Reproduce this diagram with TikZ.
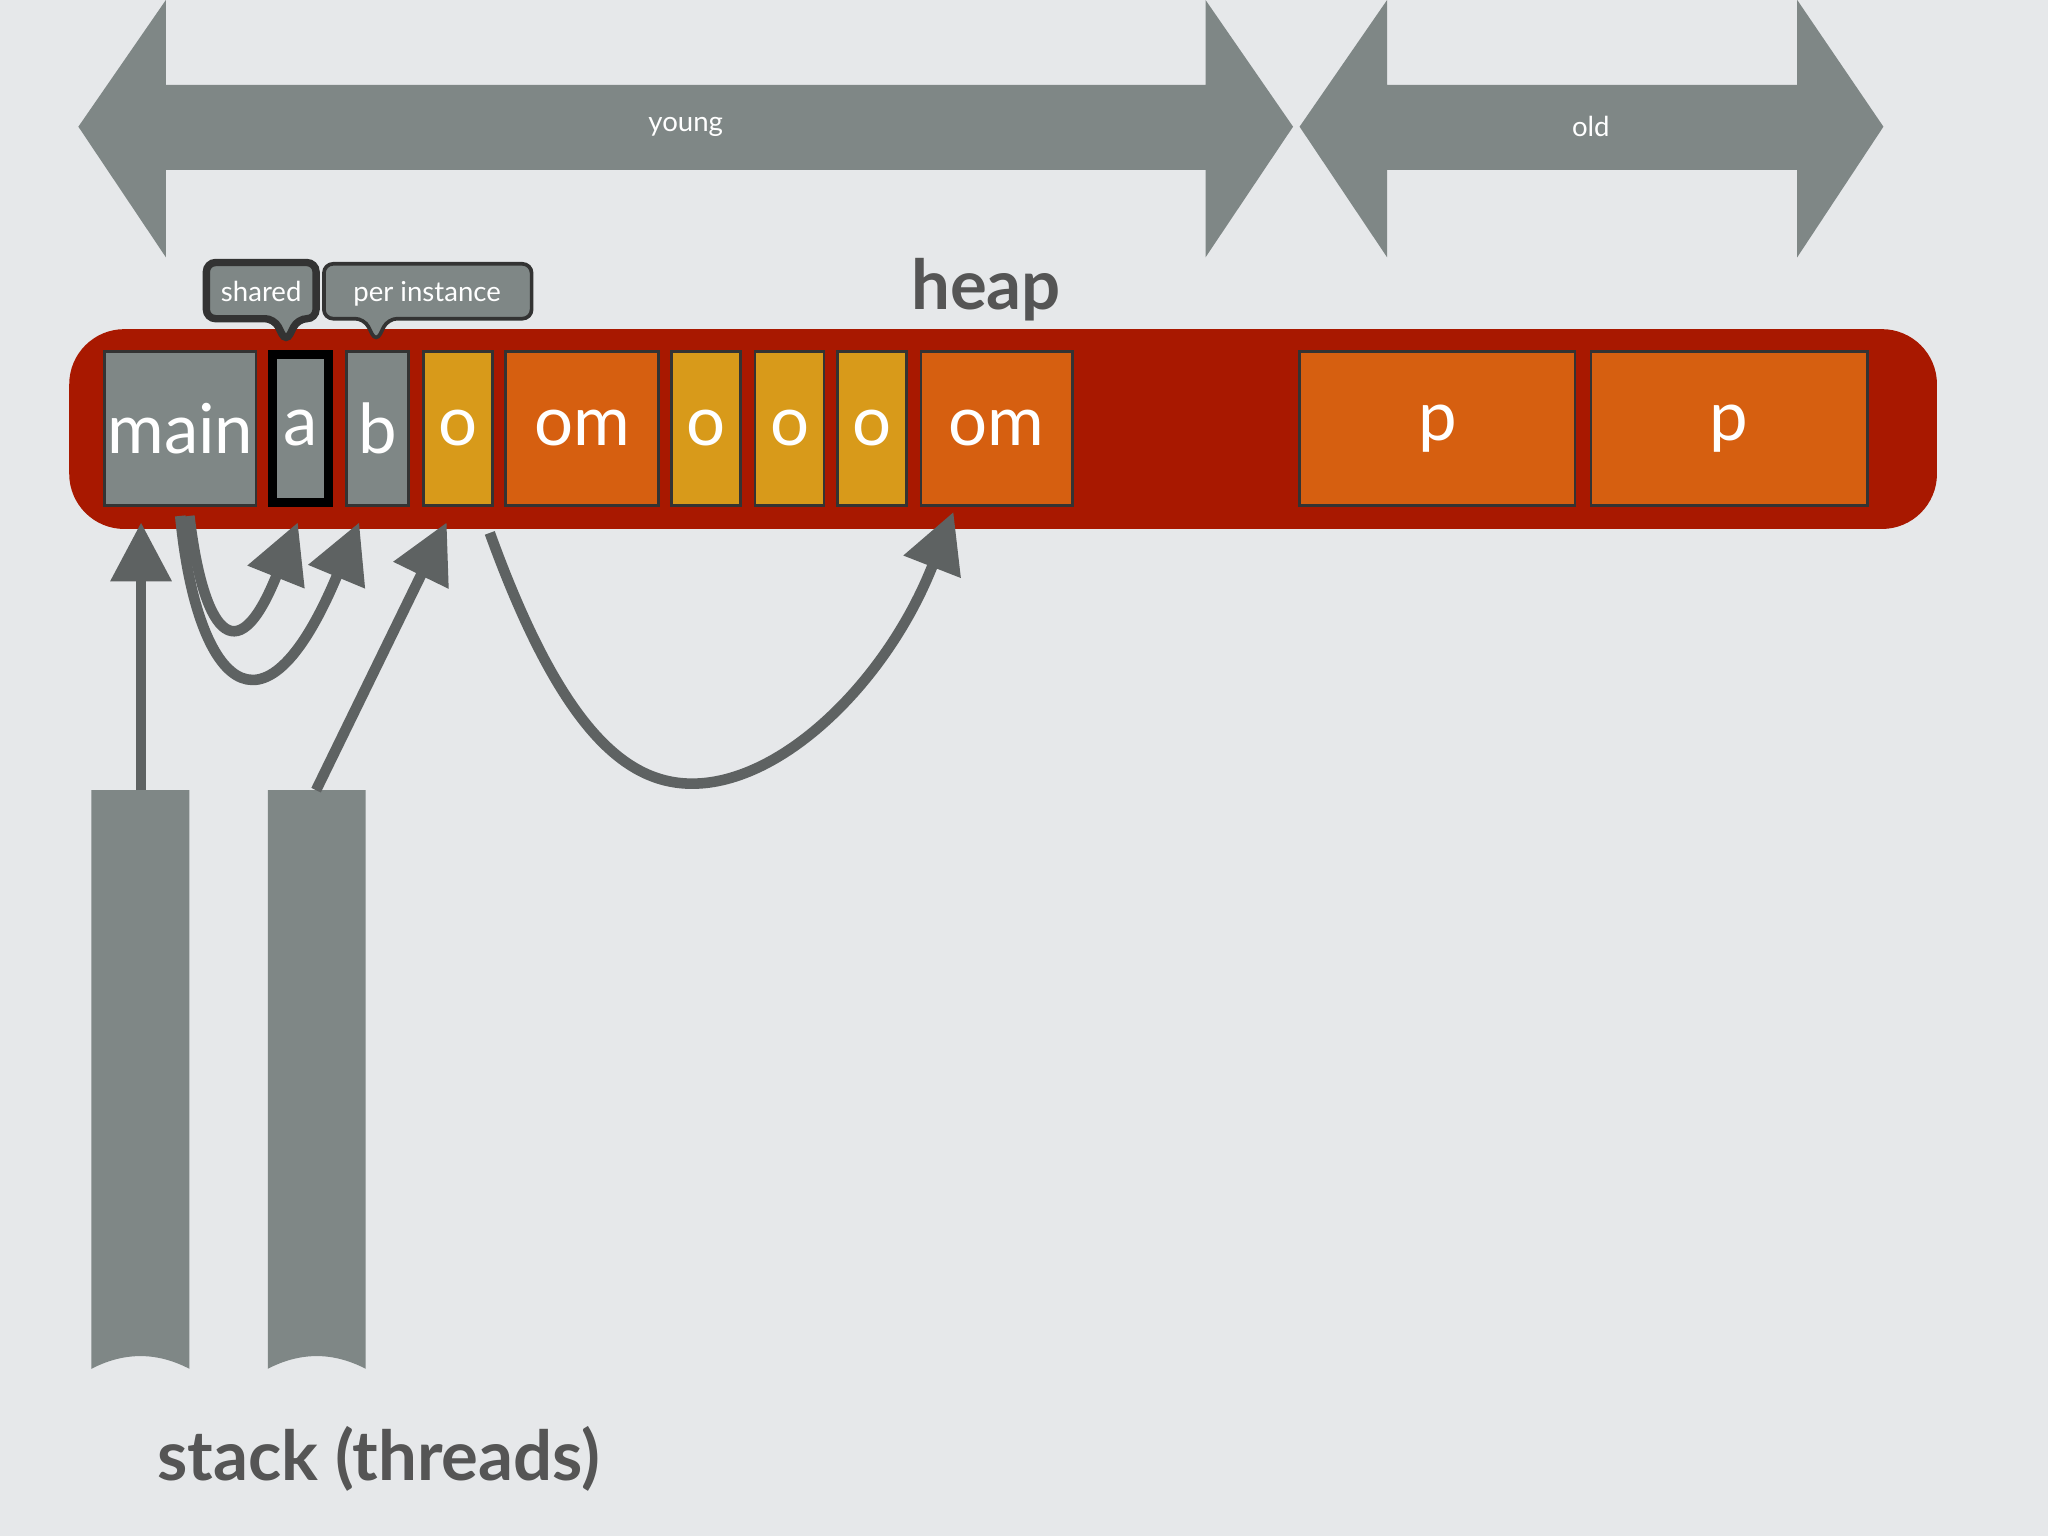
\documentclass[tikz,border=0pt]{standalone}
\usepackage{fontspec}
\setmainfont{Lato}
\usetikzlibrary{arrows.meta}
\definecolor{bg}{HTML}{E6E8EA}
\definecolor{gr}{HTML}{7F8786}
\definecolor{heapred}{HTML}{A81800}
\definecolor{yel}{HTML}{D89A1A}
\definecolor{ora}{HTML}{D65F10}
\definecolor{dk}{HTML}{555555}
\definecolor{arr}{HTML}{5E6262}
\tikzset{
 cell/.style={draw=black!80,line width=0.6pt,text=white,font=\fontsize{15}{15}\selectfont},
 lbl/.style={text=white,font=\fontsize{6}{6}\selectfont},
 ptr/.style={draw=arr,line width=2.3pt,-{Triangle[length=0.45cm,width=0.45cm]}},
 callout/.style={fill=gr,draw=black!80,line width=0.8pt,rounded corners=2pt}
}
\begin{document}
\begin{tikzpicture}[x=0.01cm,y=-0.01cm]
\fill[bg] (0,0) rectangle (1568,1176);
\useasboundingbox (0,0) rectangle (1568,1176);
% big arrows
\fill[gr] (60,97) -- (127,0) -- (127,65) -- (923,65) -- (923,0) -- (990,97) -- (923,197) -- (923,130) -- (127,130) -- (127,197) -- cycle;
\fill[gr] (995,97) -- (1062,0) -- (1062,65) -- (1376,65) -- (1376,0) -- (1442,97) -- (1376,197) -- (1376,130) -- (1062,130) -- (1062,197) -- cycle;
\node[lbl] (young) at (525,97) {young};
\node[lbl] (old) at (1218,97) {old};
% heap
\node[text=dk,font=\bfseries\fontsize{15}{15}\selectfont] (heap) at (755,222) {heap};
\fill[heapred,rounded corners=12pt] (53,252) rectangle (1483,405);
\def\cellbox#1#2#3#4#5{\node[cell,fill=#4,minimum width=#3*0.01cm-0.6pt,minimum height=1.2cm-0.6pt,anchor=north west,inner sep=0pt] (#1) at (#2,268) {#5};}
\cellbox{main}{79}{118}{gr}{main}
\node[cell,fill=gr,draw=black,line width=2pt,minimum width=0.5cm-2pt,minimum height=1.2cm-2pt,anchor=north west,inner sep=0pt] (a) at (205,268) {a};
\cellbox{b}{264}{50}{gr}{b}
\cellbox{o1}{323}{55}{yel}{o}
\cellbox{om1}{386}{119}{ora}{om}
\cellbox{o2}{513}{55}{yel}{o}
\cellbox{o3}{577}{55}{yel}{o}
\cellbox{o4}{640}{55}{yel}{o}
\cellbox{om2}{704}{118}{ora}{om}
\cellbox{p1}{994}{213}{ora}{p}
\cellbox{p2}{1217}{214}{ora}{p}
% callouts
\draw[callout,line width=1.6pt] (158,201) -- (242,201) -- (242,244) -- (228,244) -- (219,262) -- (210,244) -- (158,244) -- cycle;
\node[lbl] (shared) at (200,223) {shared};
\draw[callout] (248,202) -- (407,202) -- (407,244) -- (297,244) -- (288,262) -- (279,244) -- (248,244) -- cycle;
\node[lbl] (perinst) at (327,225) {per instance};
% stacks
\fill[gr] (70,605) -- (145,605) -- (145,1048) .. controls (120,1035) and (95,1035) .. (70,1048) -- cycle;
\fill[gr] (205,605) -- (280,605) -- (280,1048) .. controls (255,1035) and (230,1035) .. (205,1048) -- cycle;
\coordinate (s1) at (108,605);
\coordinate (s2) at (242,605);
\node[text=dk,font=\bfseries\fontsize{15}{15}\selectfont] (stk) at (290,1117) {stack (threads)};
% pointers
\coordinate (m1) at (145,395);
\coordinate (m2) at (138,395);
\coordinate (o1b) at (375,408);
\draw[ptr] (s1) -- (108,400);
\draw[ptr] (m1) .. controls (155,480) and (180,520) .. (228,400);
\draw[ptr] (m2) .. controls (150,520) and (200,580) .. (275,400);
\draw[ptr] (s2) -- (342,400);
\draw[ptr] (o1b) .. controls (430,560) and (480,600) .. (530,600) .. controls (600,600) and (680,520) .. (730,392);
\end{tikzpicture}
\end{document}
